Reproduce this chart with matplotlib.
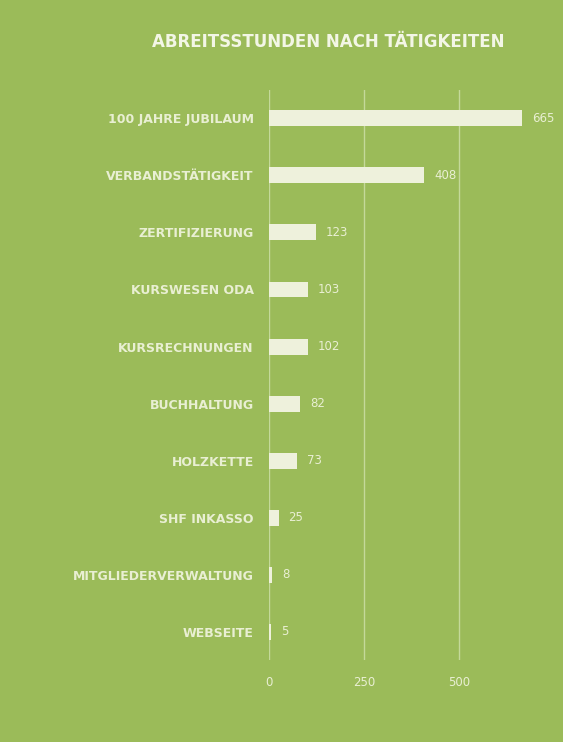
import numpy as np
import matplotlib.pyplot as plt

# --- Daten ---
taetigkeiten = ["100 JAHRE JUBILAUM", "VERBANDSTÄTIGKEIT", "ZERTIFIZIERUNG",
                "KURSWESEN ODA", "KURSRECHNUNGEN", "BUCHHALTUNG", "HOLZKETTE",
                "SHF INKASSO", "MITGLIEDERVERWALTUNG", "WEBSEITE"]
stunden = [665, 408, 123, 103, 102, 82, 73, 25, 8, 5]
ticks = [0, 250, 500]

gruen = "#9bbb59"
hell = "#eef1dc"
text_farbe = "#e9efd3"

fig = plt.figure(figsize=(5.63, 7.42), dpi=100, facecolor=gruen)
ax = fig.add_axes([0.478, 0.110, 0.4725, 0.769])
ax.set_facecolor(gruen)

y = np.arange(len(taetigkeiten))
ax.barh(y, stunden, height=0.28, color=hell, zorder=3)

for yi, v in zip(y, stunden):
    ax.text(v + 26, yi, str(v), va="center", ha="left", fontsize=8.5,
            color=text_farbe, zorder=4)

ax.set_xlim(0, 700)
ax.set_ylim(len(taetigkeiten) - 0.5, -0.5)

ax.set_xticks(ticks)
ax.set_xticklabels([str(t) for t in ticks], fontsize=8.5, color=text_farbe)
for t in ticks:
    ax.axvline(t, color="#c4d99a", lw=1, zorder=1)

ax.set_yticks(y)
ax.set_yticklabels(taetigkeiten, fontsize=9, fontweight="bold", color=text_farbe)
ax.tick_params(axis="y", length=0, pad=11)
ax.tick_params(axis="x", length=0, pad=11)
for s in ax.spines.values():
    s.set_visible(False)

fig.text(0.583, 0.943, "ABREITSSTUNDEN NACH TÄTIGKEITEN", ha="center", va="center",
         fontsize=12, fontweight="bold", color="#f3f6e6")

fig.savefig("out.png", dpi=100, facecolor=gruen)
